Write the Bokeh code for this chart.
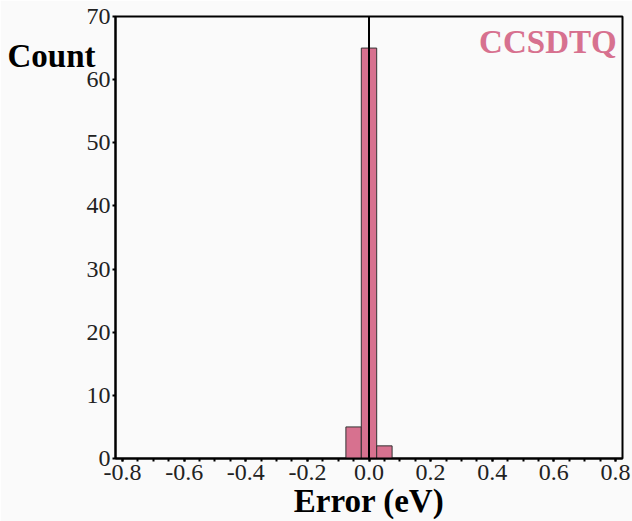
import numpy as np
from bokeh.plotting import figure
from bokeh.models import Range1d, FixedTicker, PrintfTickFormatter, Label, Span
from bokeh.embed import file_html
from bokeh.resources import INLINE

# ---- data ----
bin_left = [-0.075, -0.025, 0.025]
bin_right = [-0.025, 0.025, 0.075]
counts = [5, 65, 2]
x_ticks = [-0.8, -0.6, -0.4, -0.2, 0.0, 0.2, 0.4, 0.6, 0.8]
y_ticks = [0, 10, 20, 30, 40, 50, 60, 70]
method_name = "CCSDTQ"

bar_color = "#D7718F"
bg = "#FAFAFA"
serif = "Liberation Serif"

p = figure(width=632, height=521, output_backend="svg", toolbar_location=None,
           x_range=Range1d(-0.823, 0.823), y_range=Range1d(0, 70),
           min_border_left=115, min_border_right=10, min_border_top=16, min_border_bottom=62)
p.background_fill_color = bg
p.border_fill_color = bg
p.outline_line_color = "black"
p.outline_line_width = 2
p.xgrid.visible = False
p.ygrid.visible = False

p.quad(left=bin_left, right=bin_right, top=counts, bottom=0,
       fill_color=bar_color, line_color="#333333", line_width=1)

p.add_layout(Span(location=0, dimension="height", line_color="black", line_width=2))

minor = [round(v, 2) for v in np.arange(-0.8, 0.801, 0.05)]
xa = p.xaxis[0]
xa.ticker = FixedTicker(ticks=x_ticks, minor_ticks=minor)
xa.formatter = PrintfTickFormatter(format="%.1f")
xa.axis_line_width = 2
xa.major_tick_out = 3
xa.major_tick_in = 0
xa.minor_tick_out = 3
xa.minor_tick_in = 0
xa.major_tick_line_width = 2
xa.minor_tick_line_width = 2
xa.major_label_standoff = 3
xa.major_label_text_font = serif
xa.major_label_text_font_size = "24px"
xa.major_label_text_color = "#222222"
xa.axis_label = "Error (eV)"
xa.axis_label_text_font = serif
xa.axis_label_text_font_style = "bold"
xa.axis_label_text_font_size = "33px"
xa.axis_label_text_color = "black"
xa.axis_label_standoff = 0

ya = p.yaxis[0]
ya.ticker = FixedTicker(ticks=y_ticks, minor_ticks=[])
ya.axis_line_width = 2
ya.major_tick_out = 3
ya.major_tick_in = 0
ya.major_tick_line_width = 2
ya.major_label_standoff = 2
ya.major_label_text_font = serif
ya.major_label_text_font_size = "24px"
ya.major_label_text_color = "#222222"
ya.axis_label = "\nCount"
ya.axis_label_orientation = "horizontal"
ya.axis_label_align = "end"
ya.axis_label_standoff = -12
ya.axis_label_text_font = serif
ya.axis_label_text_font_style = "bold"
ya.axis_label_text_font_size = "33px"
ya.axis_label_text_line_height = 2.2
ya.axis_label_text_color = "black"

p.add_layout(Label(x=0.804, y=66.0, text=method_name, text_font=serif, text_font_style="bold",
                   text_font_size="33px", text_color=bar_color, text_align="right",
                   text_baseline="middle"))

open("out.html", "w").write(file_html(p, INLINE))
